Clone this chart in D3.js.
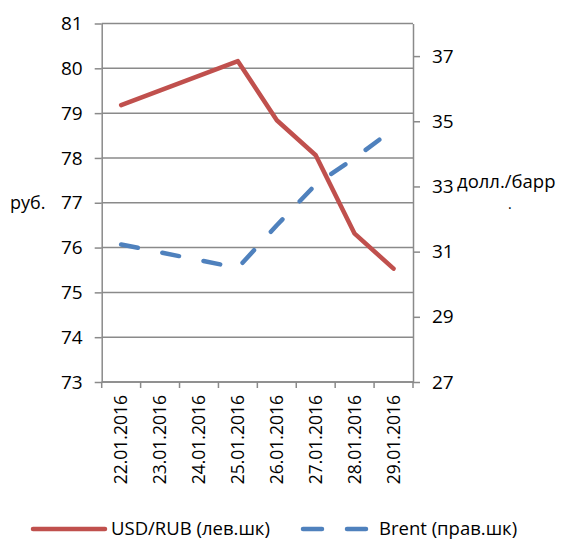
<!DOCTYPE html>
<html><head><meta charset="utf-8">
<script src="https://cdn.jsdelivr.net/npm/d3@7"></script>
<style>
html,body{margin:0;padding:0;background:#fff;}
text{font-family:"Open Sans","Noto Sans",sans-serif;fill:#000;}
</style></head>
<body><svg id="c" width="563" height="539"></svg>
<script>
const categories = ["22.01.2016","23.01.2016","24.01.2016","25.01.2016","26.01.2016","27.01.2016","28.01.2016","29.01.2016"];
const usdRub = [79.18, null, null, 80.16, 78.84, 78.06, 76.31, 75.53];
const brent = [31.22, null, null, 30.50, 31.81, 33.06, 33.87, 34.76];
const leftTicks = [73,74,75,76,77,78,79,80,81];
const rightTicks = [27,29,31,33,35,37];
const seriesNames = ["USD/RUB (лев.шк)", "Brent (прав.шк)"];
const leftTitle = "руб.";
const rightTitle = ["долл./барр", "."];

const svg = d3.select("#c");
const L = 101.7, R = 413, T = 23.5, B = 382;
const grid = "#8a8a8a";
const red = "#C0504D", blue = "#4F81BD";

const x = d3.scaleBand().domain(categories).range([L, R]);
const yL = d3.scaleLinear().domain([73, 81]).range([B, T]);
const yR = d3.scaleLinear().domain([27, 38]).range([B, T]);

// gridlines
svg.append("g").selectAll("line").data(leftTicks).join("line")
  .attr("x1", L).attr("x2", R).attr("y1", d => yL(d)).attr("y2", d => yL(d))
  .attr("stroke", grid).attr("stroke-width", 1.5);

// left axis
const gl = svg.append("g").attr("transform", `translate(${L},0)`)
  .call(d3.axisLeft(yL).tickValues(leftTicks).tickSize(7).tickPadding(12).tickSizeOuter(0));
gl.select(".domain").attr("stroke", grid).attr("stroke-width", 1.5);
gl.selectAll(".tick line").attr("stroke", grid).attr("stroke-width", 1.5);
gl.selectAll(".tick text").style("font-size", "19px").attr("fill", "#000");

// right axis
const gr = svg.append("g").attr("transform", `translate(${R},0)`)
  .call(d3.axisRight(yR).tickValues(rightTicks).tickSize(7).tickPadding(12).tickSizeOuter(0));
gr.select(".domain").attr("stroke", grid).attr("stroke-width", 1.5);
gr.selectAll(".tick line").attr("stroke", grid).attr("stroke-width", 1.5);
gr.selectAll(".tick text").style("font-size", "19px").attr("fill", "#000");

// x axis
svg.append("line").attr("x1", L).attr("x2", R).attr("y1", B).attr("y2", B)
  .attr("stroke", grid).attr("stroke-width", 1.5);
const bounds = categories.map(c => x(c)).concat([x(categories[categories.length-1]) + x.bandwidth()]);
svg.append("g").selectAll("line").data(bounds).join("line")
  .attr("x1", d => d).attr("x2", d => d).attr("y1", B).attr("y2", B + 6)
  .attr("stroke", grid).attr("stroke-width", 1.5);
svg.append("g").selectAll("text").data(categories).join("text")
  .attr("transform", d => `translate(${x(d) + x.bandwidth()/2},395) rotate(-90)`)
  .attr("text-anchor", "end").attr("dy", "0.35em")
  .style("font-size", "17.5px").text(d => d);

// lines
const cx = (d, i) => x(categories[i]) + x.bandwidth()/2;
const redPts = usdRub.map((v, i) => [cx(v, i), v]).filter(p => p[1] != null);
const bluePts = brent.map((v, i) => [cx(v, i), v]).filter(p => p[1] != null);

svg.append("path").datum(bluePts)
  .attr("d", d3.line().x(p => p[0]).y(p => yR(p[1])))
  .attr("fill", "none").attr("stroke", blue).attr("stroke-width", 4.5)
  .attr("stroke-linecap", "round").attr("stroke-linejoin", "round")
  .attr("stroke-dasharray", "17,25");

svg.append("path").datum(redPts)
  .attr("d", d3.line().x(p => p[0]).y(p => yL(p[1])))
  .attr("fill", "none").attr("stroke", red).attr("stroke-width", 4.5)
  .attr("stroke-linecap", "round").attr("stroke-linejoin", "round");

// axis titles
svg.append("text").attr("x", 10).attr("y", 203).attr("dy", "0.35em")
  .style("font-size", "18px").text(leftTitle);
svg.append("text").attr("x", 457).attr("y", 188).style("font-size", "18.5px").text(rightTitle[0]);
svg.append("text").attr("x", 508).attr("y", 209).style("font-size", "14px").text(rightTitle[1]);

// legend
const ly = 529;
svg.append("line").attr("x1", 33).attr("x2", 105).attr("y1", ly).attr("y2", ly)
  .attr("stroke", red).attr("stroke-width", 4.5).attr("stroke-linecap", "round");
svg.append("text").attr("x", 111).attr("y", ly).attr("dy", "0.35em")
  .style("font-size", "18.5px").text(seriesNames[0]);
svg.append("line").attr("x1", 303).attr("x2", 366).attr("y1", ly).attr("y2", ly)
  .attr("stroke", blue).attr("stroke-width", 4.5).attr("stroke-linecap", "round")
  .attr("stroke-dasharray", "19,25");
svg.append("text").attr("x", 379).attr("y", ly).attr("dy", "0.35em")
  .style("font-size", "18.5px").text(seriesNames[1]);
</script></body></html>
